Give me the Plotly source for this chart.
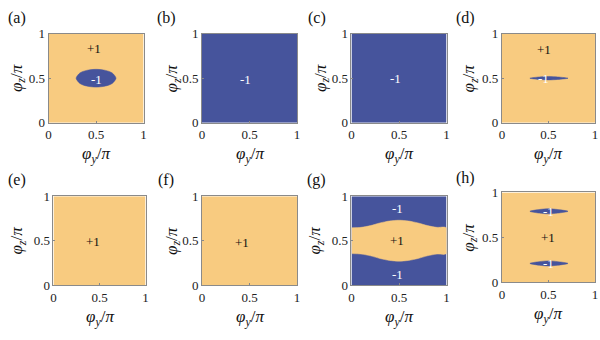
import plotly.graph_objects as go

W, H = 600, 340
ORANGE = "#F8CB80"
BLUE = "#46549C"
FONT = "Times New Roman, Liberation Serif, serif"

panels = ["a", "b", "c", "d", "e", "f", "g", "h"]
# background sign of each panel
base_sign = [1, -1, -1, 1, 1, 1, -1, 1]

# plot-area pixel boxes (left, right, top, bottom)
boxes = {
    "a": (46, 142, 28, 121), "b": (201, 297, 28, 121),
    "c": (352, 448, 28, 121), "d": (504, 598, 28, 121),
    "e": (51, 144, 198, 291), "f": (201, 297, 198, 291),
    "g": (352, 448, 198, 291), "h": (504, 598, 194, 288),
}

# islands: boundary points (phi_y/pi, phi_z/pi), sign inside
a_island_y = [0.29, 0.33, 0.40, 0.50, 0.60, 0.67, 0.71, 0.67, 0.60, 0.50, 0.40, 0.33, 0.29]
a_island_z = [0.50, 0.559, 0.588, 0.60, 0.588, 0.559, 0.50, 0.441, 0.412, 0.40, 0.412, 0.441, 0.50]

d_island_y = [0.30, 0.40, 0.50, 0.60, 0.71, 0.60, 0.50, 0.40, 0.30]
d_island_z = [0.50, 0.514, 0.519, 0.514, 0.50, 0.486, 0.481, 0.486, 0.50]

h_top_y = [0.30, 0.40, 0.50, 0.60, 0.71, 0.60, 0.50, 0.40, 0.30]
h_top_z = [0.79, 0.810, 0.818, 0.810, 0.79, 0.770, 0.762, 0.770, 0.79]
h_bot_y = [0.30, 0.40, 0.50, 0.60, 0.71, 0.60, 0.50, 0.40, 0.30]
h_bot_z = [0.21, 0.230, 0.238, 0.230, 0.21, 0.190, 0.182, 0.190, 0.21]

g_y = [0.0, 0.1, 0.2, 0.3, 0.4, 0.5, 0.6, 0.7, 0.8, 0.9, 1.0]
g_upper = [0.645, 0.65, 0.67, 0.70, 0.722, 0.73, 0.722, 0.70, 0.67, 0.65, 0.645]
g_lower = [0.355, 0.35, 0.33, 0.30, 0.278, 0.27, 0.278, 0.30, 0.33, 0.35, 0.355]

islands = {
    "a": [(a_island_y, a_island_z, -1)],
    "d": [(d_island_y, d_island_z, -1)],
    "h": [(h_top_y, h_top_z, -1), (h_bot_y, h_bot_z, -1)],
    "g": [(g_y + g_y[::-1], g_upper + g_lower[::-1], 1)],
}

# text labels in each panel: (phi_y, phi_z, text)
labels = {
    "a": [(0.48, 0.83, "+1"), (0.50, 0.49, "-1")],
    "b": [(0.46, 0.49, "-1")],
    "c": [(0.46, 0.50, "-1")],
    "d": [(0.45, 0.82, "+1"), (0.45, 0.50, "-1")],
    "e": [(0.43, 0.49, "+1")],
    "f": [(0.42, 0.48, "+1")],
    "g": [(0.48, 0.86, "-1"), (0.48, 0.50, "+1"), (0.48, 0.12, "-1")],
    "h": [(0.49, 0.50, "+1"), (0.50, 0.79, "-1"), (0.50, 0.21, "-1")],
}

# panel-letter positions and axis-title positions (pixels)
letter_pos = {"a": (14, 12), "b": (165, 11), "c": (317, 11), "d": (467, 11),
              "e": (14, 181), "f": (165, 181), "g": (317, 181), "h": (467, 179)}
ytitle_x = {"a": 15, "b": 172, "c": 322, "d": 472, "e": 15, "f": 171, "g": 316, "h": 472}
xtitle_y = {"a": 155, "b": 155, "c": 155, "d": 155, "e": 325, "f": 325, "g": 325, "h": 322}

tick_vals = [0, 0.5, 1]
tick_text = ["0", "0.5", "1"]

def col(s):
    return ORANGE if s > 0 else BLUE

fig = go.Figure()
annotations = []
layout = dict(width=W, height=H, margin=dict(l=0, r=0, t=0, b=0, pad=0),
              paper_bgcolor="white", plot_bgcolor="white", showlegend=False,
              font=dict(family=FONT))

def ann(**kw):
    kw.setdefault("xanchor", "center")
    kw.setdefault("yanchor", "middle")
    kw.setdefault("showarrow", False)
    annotations.append(kw)

for i, p in enumerate(panels):
    n = i + 1
    xa = "x" if n == 1 else f"x{n}"
    ya = "y" if n == 1 else f"y{n}"
    L, R, T, B = boxes[p]
    axcommon = dict(range=[0, 1], tickvals=tick_vals, ticktext=tick_text,
                    ticks="inside", ticklen=2, tickcolor="#888", showgrid=False,
                    zeroline=False, showline=True, linecolor="#8a8a8a", linewidth=1,
                    mirror=True, tickfont=dict(family=FONT, size=13, color="#222"),
                    fixedrange=True)
    layout["xaxis" if n == 1 else f"xaxis{n}"] = dict(
        axcommon, domain=[L / W, R / W], anchor=ya)
    layout["yaxis" if n == 1 else f"yaxis{n}"] = dict(
        axcommon, domain=[1 - B / H, 1 - T / H], anchor=xa)

    fig.add_trace(go.Heatmap(z=[[base_sign[i]]], x=[0, 1], y=[0, 1],
                             zmin=-1, zmax=1,
                             colorscale=[[0, BLUE], [1, ORANGE]],
                             showscale=False, hoverinfo="skip",
                             xaxis=xa, yaxis=ya))
    for (iy, iz, s) in islands.get(p, []):
        fig.add_trace(go.Scatter(x=iy, y=iz, mode="lines", fill="toself",
                                 fillcolor=col(s), line=dict(color=col(s), width=0.5,
                                                              shape="spline", smoothing=0.8),
                                 hoverinfo="skip", xaxis=xa, yaxis=ya))
    for (lx, lz, t) in labels[p]:
        ann(x=lx, y=lz, xref=xa, yref=ya, text=t,
            font=dict(family=FONT, size=13,
                      color="white" if t.startswith("-") else "#111"))
    lx, ly = letter_pos[p]
    ann(x=lx / W, y=1 - ly / H, xref="paper", yref="paper", text=f"({p})",
        font=dict(family=FONT, size=16, color="#111"))
    ann(x=(L + R) / 2 / W, y=1 - xtitle_y[p] / H, xref="paper", yref="paper",
        text="<i>φ</i><sub><i>y</i></sub>/<i>π</i>",
        font=dict(family=FONT, size=17, color="#111"))
    ann(x=ytitle_x[p] / W, y=1 - (T + B) / 2 / H, xref="paper", yref="paper",
        textangle=-90, text="<i>φ</i><sub><i>z</i></sub>/<i>π</i>",
        font=dict(family=FONT, size=17, color="#111"))

layout["annotations"] = annotations
fig.update_layout(**layout)
fig.write_html("out.html", config={"displayModeBar": False},
               post_script="document.body.style.margin='0px';document.body.style.overflow='hidden';")
